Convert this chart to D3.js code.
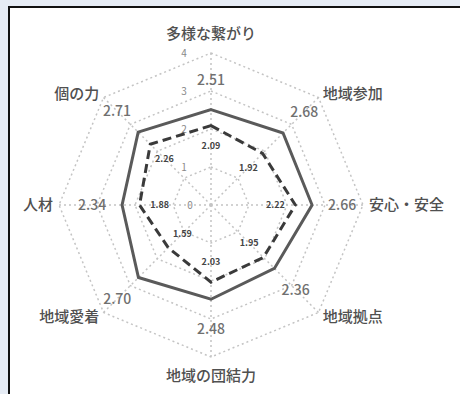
<!DOCTYPE html>
<html lang="ja">
<meta charset="UTF-8">
<title>Radar chart</title>
<script src="https://d3js.org/d3.v7.min.js"></script>
<style>
  html, body { margin: 0; padding: 0; background: #e6ecf5; }
  svg text { font-family: "Noto Sans CJK JP", "Noto Sans", sans-serif; }
</style>
<body>
<div id="chart"></div>
<script>
// categories, clockwise from the top
var categories = ["多様な繋がり", "地域参加", "安心・安全", "地域拠点", "地域の団結力", "地域愛着", "人材", "個の力"];
// solid series (outer)
var seriesA = [2.51, 2.68, 2.66, 2.36, 2.48, 2.70, 2.34, 2.71];
// dashed series (inner)
var seriesB = [2.09, 1.92, 2.22, 1.95, 2.03, 1.59, 1.88, 2.26];
var ticks = [0, 1, 2, 3, 4];

var width = 460, height = 394;
var cx = 211, cy = 205;

var svg = d3.select("#chart").append("svg")
  .attr("width", width)
  .attr("height", height);

// frame
svg.append("rect").attr("x", 9).attr("y", 8).attr("width", width - 9).attr("height", height - 8).attr("fill", "#fff");
svg.append("line").attr("x1", 8).attr("x2", width).attr("y1", 7).attr("y2", 7).attr("stroke", "#111").attr("stroke-width", 2);
svg.append("line").attr("x1", 9).attr("x2", 9).attr("y1", 6).attr("y2", height).attr("stroke", "#111").attr("stroke-width", 2);

var g = svg.append("g").attr("transform", "translate(" + cx + "," + cy + ")");

var r = d3.scaleLinear().domain([0, 4]).range([0, 152]);
var angle = d3.scaleLinear().domain([0, categories.length]).range([0, 2 * Math.PI]);

function px(i, rad) { return rad * Math.sin(angle(i)); }
function py(i, rad) { return -rad * Math.cos(angle(i)); }

var radial = d3.lineRadial()
  .angle(function (d, i) { return angle(i); })
  .radius(function (d) { return r(d); })
  .curve(d3.curveLinearClosed);

// grid rings
ticks.slice(1).forEach(function (t) {
  g.append("path")
    .attr("d", radial(categories.map(function () { return t; })))
    .attr("fill", "none")
    .attr("stroke", "#c4c4c4")
    .attr("stroke-width", 1.5)
    .attr("stroke-dasharray", "2,3");
});

// spokes
categories.forEach(function (c, i) {
  g.append("line")
    .attr("x1", 0).attr("y1", 0)
    .attr("x2", px(i, r(4))).attr("y2", py(i, r(4)))
    .attr("stroke", "#c4c4c4")
    .attr("stroke-width", 1.5)
    .attr("stroke-dasharray", "2,3");
});

// tick labels
g.selectAll(".tick").data(ticks).enter().append("text")
  .attr("x", function (d) { return d === 0 ? -21 : -27; })
  .attr("y", function (d) { return -r(d); })
  .attr("dy", "0.35em")
  .attr("text-anchor", "middle")
  .attr("font-size", 10)
  .attr("fill", "#888")
  .text(function (d) { return d; });

// series
g.append("path")
  .attr("d", radial(seriesA))
  .attr("fill", "none")
  .attr("stroke", "#5a5a5a")
  .attr("stroke-width", 3);

g.append("path")
  .attr("d", radial(seriesB))
  .attr("fill", "none")
  .attr("stroke", "#3a3a3a")
  .attr("stroke-width", 3)
  .attr("stroke-dasharray", "9,5");

// value labels
seriesA.forEach(function (v, i) {
  g.append("text")
    .attr("x", px(i, r(v) + 30))
    .attr("y", py(i, r(v) + 30))
    .attr("dy", "0.35em")
    .attr("text-anchor", "middle")
    .attr("font-size", 14)
    .attr("font-weight", 500)
    .attr("fill", "#707070")
    .text(v.toFixed(2));
});

seriesB.forEach(function (v, i) {
  g.append("text")
    .attr("x", px(i, r(v) - 20))
    .attr("y", py(i, r(v) - 20))
    .attr("dy", "0.35em")
    .attr("text-anchor", "middle")
    .attr("font-size", 9)
    .attr("font-weight", "bold")
    .attr("fill", "#444")
    .text(v.toFixed(2));
});

// category labels
categories.forEach(function (c, i) {
  var s = Math.sin(angle(i));
  var vertical = Math.abs(s) < 0.01;
  var rad = vertical ? 171 : 158;
  g.append("text")
    .attr("x", px(i, rad))
    .attr("y", py(i, rad))
    .attr("dy", "0.35em")
    .attr("text-anchor", vertical ? "middle" : (s > 0 ? "start" : "end"))
    .attr("font-size", 15)
    .attr("font-weight", 500)
    .attr("fill", "#505050")
    .text(c);
});
</script>
</body>
</html>
